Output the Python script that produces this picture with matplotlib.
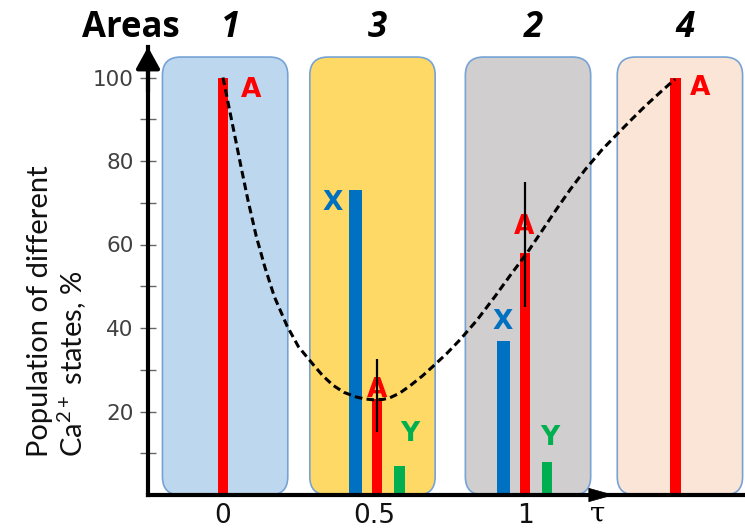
import matplotlib
matplotlib.use('Agg')
import matplotlib.pyplot as plt
import matplotlib.transforms as mtransforms
from matplotlib.patches import FancyBboxPatch

plt.rcParams['mathtext.fontset'] = 'custom'
plt.rcParams['mathtext.rm'] = 'Lato'
plt.rcParams['mathtext.it'] = 'Lato:italic'
plt.rcParams['mathtext.bf'] = 'Lato:bold'

# ---------------- data ----------------
area_labels = ['1', '3', '2', '4']
area_centers = [0.007, 0.495, 1.010, 1.513]
area_colors = ['#bdd7ee', '#ffd966', '#d0cece', '#fbe5d6']

a_tau = [0.0, 0.51, 1.0, 1.497]
a_val = [100, 23, 58, 100]
x_tau = [0.44, 0.93]
x_val = [73, 37]
y_tau = [0.585, 1.073]
y_val = [7, 8]

err_tau = [0.51, 1.0]
err_low = [15, 45]
err_high = [32.5, 75]

curve_tau = [0.0, 0.02, 0.04, 0.06, 0.083, 0.11, 0.139, 0.17, 0.212, 0.25,
             0.298, 0.33, 0.364, 0.40, 0.44, 0.47, 0.50, 0.53, 0.553, 0.585,
             0.62, 0.66, 0.695, 0.741, 0.785, 0.84, 0.90, 0.95, 1.007, 1.05,
             1.10, 1.15, 1.20, 1.255, 1.31, 1.355, 1.40, 1.45, 1.497]
curve_val = [100, 92.8, 85.7, 78.5, 70.5, 62.0, 54.5, 47.5, 40.5, 35.5,
             31.3, 28.6, 26.3, 24.6, 23.5, 23.0, 22.8, 22.9, 23.3, 24.4,
             26.2, 28.5, 30.8, 33.9, 37.2, 41.8, 47.5, 52.5, 58.0, 62.6,
             68.0, 73.2, 78.0, 82.7, 86.8, 90.1, 93.3, 96.6, 99.6]

xtick_vals = [0, 0.5, 1]
xtick_labels = ['0', '0.5', '1']
ytick_major = [20, 40, 60, 80, 100]
ytick_minor = [10, 30, 50, 70, 90]

# ---------------- figure ----------------
W, H = 745, 529
fig = plt.figure(figsize=(W / 100, H / 100), dpi=100)
ax = fig.add_axes([148 / W, 34 / H, 597 / W, 448 / H])
ax.set_xlim((148 - 223) / 302, (745 - 223) / 302)
ax.set_ylim(0, (495 - 47) / 4.175)

RED, BLUE, GREEN = '#ff0000', '#0070c0', '#00b050'

# background rounded boxes
box_w = 0.415
box_top = 104.9
for c, col in zip(area_centers, area_colors):
    p = FancyBboxPatch((c - box_w / 2, 0), box_w, box_top,
                       boxstyle='round,pad=0,rounding_size=0.06',
                       mutation_aspect=302 / 4.175,
                       facecolor=col, edgecolor='#76a3d6', lw=1.2, zorder=1)
    ax.add_patch(p)

# bars
ax.bar(x_tau, x_val, width=0.043, color=BLUE, zorder=3)
ax.bar(a_tau, a_val, width=0.036, color=RED, zorder=3)
ax.bar(y_tau, y_val, width=0.036, color=GREEN, zorder=3)

# bar letters
lab_kw = dict(textcoords='offset points', ha='center', va='center',
              fontsize=19, fontweight='bold', family='DejaVu Sans', zorder=4)
a_offsets = [(20, -9), (0, 6.3), (-1, 18.6), (17.8, -7.5)]
for t, v, off in zip(a_tau, a_val, a_offsets):
    ax.annotate('A', xy=(t, v), xytext=off, color=RED, **lab_kw)
x_offsets = [(-16.5, -9.3), (-1, 13.2)]
for t, v, off in zip(x_tau, x_val, x_offsets):
    ax.annotate('X', xy=(t, v), xytext=off, color=BLUE, **lab_kw)
y_offsets = [(7.4, 22.8), (2.2, 17)]
for t, v, off in zip(y_tau, y_val, y_offsets):
    ax.annotate('Y', xy=(t, v), xytext=off, color=GREEN, **lab_kw)

# dashed curve
ax.plot(curve_tau, curve_val, color='black', lw=2.2,
        linestyle=(0, (2.5, 1.4)), solid_joinstyle='round',
        dash_joinstyle='round', zorder=5)

# error bars
ax.vlines(err_tau, err_low, err_high, color='black', lw=1.6, zorder=6)

# axes styling
for s in ['top', 'right']:
    ax.spines[s].set_visible(False)
for s in ['left', 'bottom']:
    ax.spines[s].set_linewidth(3)
    ax.spines[s].set_zorder(7)

ax.set_yticks(ytick_major)
ax.set_yticks(ytick_minor, minor=True)
ax.tick_params(axis='y', which='both', direction='inout', length=11,
               width=1, color='#666666', labelsize=15.5, labelcolor='#404040',
               pad=5)
ax.set_xticks(xtick_vals, xtick_labels)
ax.tick_params(axis='x', length=0, labelsize=19, pad=6, labelcolor='#111111')

# axis arrows
ax.annotate('', xy=(0, 1.0), xytext=(0, 0.9), xycoords='axes fraction',
            arrowprops=dict(arrowstyle='-|>,head_length=0.65,head_width=0.36',
                            color='black', lw=3, shrinkA=0, shrinkB=0,
                            mutation_scale=20), annotation_clip=False, zorder=8)
ax.annotate('', xy=((614 - 148) / 597, 0), xytext=((585 - 148) / 597, 0),
            xycoords='axes fraction',
            arrowprops=dict(arrowstyle='-|>,head_length=0.86,head_width=0.24',
                            color='black', lw=0.5, shrinkA=0, shrinkB=0,
                            mutation_scale=20), annotation_clip=False, zorder=8)

fig.text(598 / W, 1 - 514 / H, 'τ', ha='center', va='center', fontsize=20,
         family='DejaVu Serif')

# title and area numbers
fig.text(131 / W, 1 - 37 / H, 'Areas', ha='center', va='baseline',
         fontsize=25, fontweight='bold', family='Open Sans')
trans = mtransforms.blended_transform_factory(ax.transData, fig.transFigure) + \
    mtransforms.ScaledTranslation(5 / 100, 0, fig.dpi_scale_trans)
for c, lab in zip(area_centers, area_labels):
    ax.text(c, 1 - 37 / H, lab, transform=trans, ha='center', va='baseline',
            fontsize=25, fontweight='bold', fontstyle='italic',
            family='Open Sans')

# y label
fig.text(58 / W, 1 - 457 / H,
         'Population of different\nCa$^{\\mathrm{2+}}$ states, %',
         rotation=90, ha='center', va='bottom', multialignment='left',
         fontsize=21, family='Lato', linespacing=1.1, color='#111111')

fig.savefig('out.png', dpi=100)
